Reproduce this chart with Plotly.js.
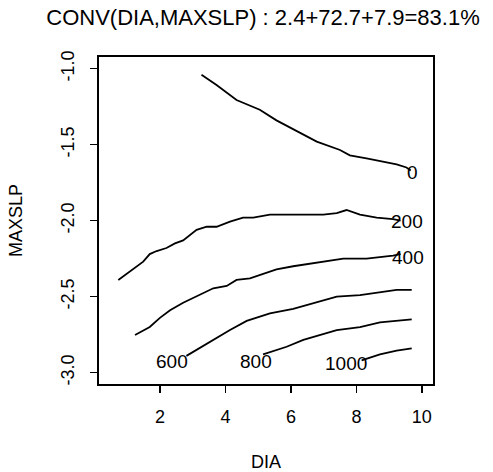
<!DOCTYPE html>
<html>
<head>
<meta charset="utf-8">
<script src="https://cdn.plot.ly/plotly-3.0.1.min.js"></script>
<style>html,body{margin:0;padding:0;background:#fff;}#chart{width:493px;height:472px;}</style>
</head>
<body>
<div id="chart"></div>
<script>
// Contour levels and their traced lines (DIA on x, MAXSLP on y)
var levels = [0, 200, 400, 600, 800, 1000];

var x0 = [3.27, 3.73, 4.34, 5.05, 5.56, 6.07, 6.79, 7.50, 7.80, 8.31, 8.82, 9.23, 9.53, 9.66];
var y0 = [-1.04, -1.107, -1.206, -1.27, -1.34, -1.40, -1.48, -1.535, -1.57, -1.59, -1.61, -1.63, -1.65, -1.67];

var x200 = [0.73, 1.24, 1.49, 1.69, 1.90, 2.20, 2.46, 2.71, 3.12, 3.43, 3.73, 4.14, 4.54, 4.85, 5.36, 6.07, 6.99, 7.40, 7.70, 8.11, 8.62, 9.12, 9.35];
var y200 = [-2.39, -2.306, -2.27, -2.22, -2.20, -2.18, -2.15, -2.13, -2.06, -2.04, -2.04, -2.006, -1.98, -1.98, -1.96, -1.96, -1.96, -1.95, -1.93, -1.96, -1.98, -1.99, -2.0];

var x400 = [1.24, 1.69, 2.00, 2.31, 2.71, 3.22, 3.63, 4.04, 4.34, 4.75, 5.56, 6.07, 6.68, 7.60, 8.31, 8.82, 9.12, 9.35];
var y400 = [-2.752, -2.70, -2.64, -2.59, -2.54, -2.49, -2.445, -2.43, -2.39, -2.38, -2.32, -2.30, -2.28, -2.25, -2.25, -2.24, -2.23, -2.22];

var x600 = [2.81, 3.43, 4.14, 4.65, 5.36, 6.07, 6.89, 7.40, 8.11, 8.72, 9.23, 9.69];
var y600 = [-2.89, -2.81, -2.72, -2.66, -2.61, -2.58, -2.53, -2.50, -2.49, -2.47, -2.456, -2.456];

var x800 = [5.15, 5.87, 6.38, 7.40, 8.11, 8.72, 9.69];
var y800 = [-2.88, -2.83, -2.785, -2.72, -2.70, -2.67, -2.65];

var x1000 = [8.16, 8.72, 9.23, 9.69];
var y1000 = [-2.92, -2.88, -2.855, -2.84];

// Label anchor points for each level
var labelX = [9.70, 9.55, 9.58, 2.36, 4.92, 7.68];
var labelY = [-1.685, -2.005, -2.24, -2.93, -2.93, -2.94];

var xTicks = [2, 4, 6, 8, 10];
var yTicks = [-3.0, -2.5, -2.0, -1.5, -1.0];
var yTickText = ['-3.0', '-2.5', '-2.0', '-1.5', '-1.0'];

var titleText = 'CONV(DIA,MAXSLP) : 2.4+72.7+7.9=83.1%';
var xLabel = 'DIA';
var yLabel = 'MAXSLP';

var lineXs = [x0, x200, x400, x600, x800, x1000];
var lineYs = [y0, y200, y400, y600, y800, y1000];

var FONT = 'Liberation Sans, Arial, Helvetica, sans-serif';

var traces = lineXs.map(function (xs, i) {
  return {
    type: 'scatter', mode: 'lines', x: xs, y: lineYs[i],
    line: {color: '#000', width: 1.8}, hoverinfo: 'skip', showlegend: false
  };
});

var annotations = levels.map(function (lv, i) {
  return {
    x: labelX[i], y: labelY[i], xref: 'x', yref: 'y', text: String(lv),
    showarrow: false, font: {family: FONT, size: 19, color: '#000'}
  };
});

var layout = {
  width: 493, height: 472,
  margin: {l: 99, r: 60, t: 57, b: 88},
  paper_bgcolor: '#fff', plot_bgcolor: '#fff',
  title: {text: titleText, x: 0.5335, xanchor: 'center', y: 0.964, yanchor: 'middle',
          font: {family: FONT, size: 22, color: '#000'}},
  xaxis: {
    range: [0.14, 10.34], showgrid: false, zeroline: false,
    showline: true, mirror: true, linecolor: '#000', linewidth: 2,
    ticks: 'outside', ticklen: 7, tickwidth: 1.5, tickcolor: '#000',
    tickvals: xTicks, ticktext: xTicks.map(String),
    ticklabelstandoff: 8,
    tickfont: {family: FONT, size: 18, color: '#000'},
    title: {text: xLabel, standoff: 30, font: {family: FONT, size: 18, color: '#000'}}
  },
  yaxis: {
    range: [-3.075, -0.923], showgrid: false, zeroline: false,
    showline: true, mirror: true, linecolor: '#000', linewidth: 2,
    ticks: 'outside', ticklen: 7, tickwidth: 1.5, tickcolor: '#000',
    tickvals: yTicks, ticktext: yTickText, tickangle: -90,
    ticklabelstandoff: 9,
    tickfont: {family: FONT, size: 18, color: '#000'},
    title: {text: yLabel, standoff: 30, font: {family: FONT, size: 18, color: '#000'}}
  },
  annotations: annotations
};

Plotly.newPlot('chart', traces, layout, {staticPlot: true, displayModeBar: false});
</script>
</body>
</html>
